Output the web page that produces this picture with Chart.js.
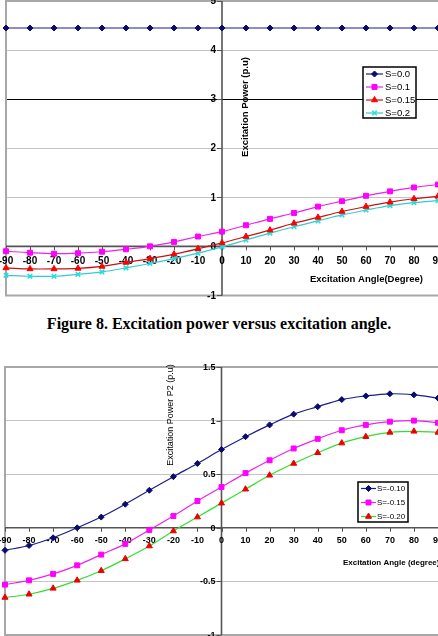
<!DOCTYPE html>
<html>
<head>
<meta charset="utf-8">
<script src="https://cdn.jsdelivr.net/npm/chart.js@4.4.1/dist/chart.umd.min.js"></script>
<style>
  html, body { margin: 0; padding: 0; background: #fff; }
  body { width: 438px; height: 636px; position: relative; overflow: hidden; }
  #c1 { position: absolute; left: 0; top: -5px; }
  #c2 { position: absolute; left: 0; top: 360px; }
  #caption {
    position: absolute; left: 0; top: 315px; width: 438px; text-align: center;
    font-family: "Liberation Serif", "Times New Roman", serif; font-weight: bold; font-size: 16px;
    color: #000;
  }
</style>
</head>
<body>
<canvas id="c1" width="446" height="306"></canvas>
<div id="caption">Figure 8. Excitation power versus excitation angle.</div>
<canvas id="c2" width="446" height="281"></canvas>
<script>
// shared x values (degrees)
const angles = [-90, -80, -70, -60, -50, -40, -30, -20, -10, 0, 10, 20, 30, 40, 50, 60, 70, 80, 90];
const xTickLabels = [-90, -80, -70, -60, -50, -40, -30, -20, -10, 0, 10, 20, 30, 40, 50, 60, 70, 80, 90];

// chart 1 series
const s00 = [4.45, 4.45, 4.45, 4.45, 4.45, 4.45, 4.45, 4.45, 4.45, 4.45, 4.45, 4.45, 4.45, 4.45, 4.45, 4.45, 4.45, 4.45, 4.45];
const s01 = [-0.1, -0.13, -0.15, -0.14, -0.11, -0.06, 0.0, 0.09, 0.2, 0.3, 0.43, 0.56, 0.68, 0.81, 0.92, 1.03, 1.12, 1.2, 1.26];
const s015 = [-0.44, -0.46, -0.46, -0.45, -0.41, -0.33, -0.25, -0.16, -0.05, 0.07, 0.2, 0.33, 0.47, 0.59, 0.71, 0.81, 0.9, 0.97, 1.02];
const s02 = [-0.59, -0.61, -0.61, -0.57, -0.52, -0.44, -0.35, -0.25, -0.14, -0.01, 0.13, 0.27, 0.4, 0.52, 0.64, 0.74, 0.83, 0.89, 0.93];
const yTicks1 = [-1, 0, 1, 2, 3, 4, 5];

// chart 2 series
const sm010 = [-0.21, -0.165, -0.093, 0.0, 0.1, 0.22, 0.35, 0.477, 0.6, 0.73, 0.85, 0.96, 1.06, 1.13, 1.196, 1.23, 1.25, 1.24, 1.21];
const sm015 = [-0.53, -0.49, -0.43, -0.35, -0.25, -0.15, -0.02, 0.11, 0.25, 0.38, 0.51, 0.63, 0.74, 0.83, 0.91, 0.96, 0.99, 1.0, 0.98];
const sm020 = [-0.65, -0.62, -0.565, -0.49, -0.4, -0.29, -0.17, -0.03, 0.1, 0.23, 0.36, 0.49, 0.6, 0.7, 0.79, 0.85, 0.89, 0.9, 0.89];
const yTicks2 = [-1, -0.5, 0, 0.5, 1, 1.5];

function pts(ys) {
    return angles.map((a, i) => ({ x: a, y: ys[i] }));
}

function series(label, ys, line, fill, style, r) {
    return {
        label: label,
        data: pts(ys),
        borderColor: line,
        backgroundColor: fill,
        pointBorderColor: fill,
        pointBackgroundColor: fill,
        borderWidth: 1.2,
        pointStyle: style,
        pointRadius: r,
        pointBorderWidth: style === 'crossRot' ? 1.6 : 1,
        tension: 0.35,
        clip: false
    };
}

// draws axes through zero, tick labels, titles, frame and the legend box
function makeDecor(o) {
    return {
        id: 'decor',
        beforeDatasetsDraw(chart) {
            const ctx = chart.ctx;
            const a = chart.chartArea;
            const xs = chart.scales.x, ys = chart.scales.y;
            const x0 = xs.getPixelForValue(0), y0 = ys.getPixelForValue(0);
            ctx.save();
            // frame
            ctx.strokeStyle = '#a8a8a8';
            ctx.lineWidth = 2;
            ctx.beginPath();
            ctx.moveTo(a.right + 2, a.top);
            ctx.lineTo(a.left, a.top);
            ctx.lineTo(a.left, a.bottom);
            ctx.lineTo(a.right + 2, a.bottom);
            ctx.stroke();
            // zero axes
            ctx.strokeStyle = '#555';
            ctx.lineWidth = 1.6;
            ctx.beginPath();
            ctx.moveTo(a.left, y0); ctx.lineTo(a.right, y0);
            ctx.moveTo(x0, a.top); ctx.lineTo(x0, a.bottom);
            ctx.stroke();
            // tick marks
            ctx.lineWidth = 1;
            ctx.beginPath();
            xTickLabels.forEach(v => {
                const px = Math.round(xs.getPixelForValue(v)) + 0.5;
                ctx.moveTo(px, y0); ctx.lineTo(px, y0 + 4);
            });
            o.yTicks.forEach(v => {
                const py = Math.round(ys.getPixelForValue(v)) + 0.5;
                ctx.moveTo(x0 - 5, py); ctx.lineTo(x0, py);
            });
            ctx.stroke();
            // tick labels
            ctx.fillStyle = '#000';
            ctx.font = 'bold ' + o.tickSize + 'px "Liberation Sans", Arial, sans-serif';
            ctx.textAlign = 'center';
            ctx.textBaseline = 'middle';
            xTickLabels.forEach(v => {
                ctx.fillText(String(v), xs.getPixelForValue(v), y0 + o.xLabelGap);
            });
            ctx.textAlign = 'right';
            o.yTicks.forEach(v => {
                ctx.fillText(String(v), x0 - 6, ys.getPixelForValue(v) + 0.5);
            });
            // axis titles
            ctx.font = o.xTitleFont;
            ctx.textAlign = 'left';
            ctx.fillText(o.xTitle, o.xTitlePos[0], o.xTitlePos[1]);
            ctx.save();
            ctx.translate(o.yTitlePos[0], o.yTitlePos[1]);
            ctx.rotate(-Math.PI / 2);
            ctx.font = o.yTitleFont;
            ctx.textAlign = 'center';
            ctx.fillText(o.yTitle, 0, 0);
            ctx.restore();
            ctx.restore();
        },
        afterDraw(chart) {
            const ctx = chart.ctx;
            const L = o.legend;
            ctx.save();
            ctx.fillStyle = '#fff';
            ctx.fillRect(L.x, L.y, L.w, L.h);
            ctx.strokeStyle = '#000';
            ctx.lineWidth = 1.5;
            ctx.strokeRect(L.x, L.y, L.w, L.h);
            chart.data.datasets.forEach((ds, i) => {
                const cy = L.y + L.first + i * L.step;
                ctx.strokeStyle = ds.borderColor;
                ctx.lineWidth = 1.2;
                ctx.beginPath();
                ctx.moveTo(L.x + 3, cy); ctx.lineTo(L.x + 3 + L.lineLen, cy);
                ctx.stroke();
                ctx.fillStyle = ds.pointBackgroundColor;
                ctx.strokeStyle = ds.pointBorderColor;
                ctx.lineWidth = ds.pointBorderWidth;
                Chart.helpers.drawPoint(ctx, { pointStyle: ds.pointStyle, radius: ds.pointRadius, rotation: 0, borderWidth: ds.pointBorderWidth }, L.x + 3 + L.lineLen / 2, cy);
                ctx.fillStyle = '#000';
                ctx.font = L.font;
                ctx.textAlign = 'left';
                ctx.textBaseline = 'middle';
                ctx.fillText(ds.label, L.x + L.textGap + L.lineLen, cy + 0.5);
            });
            ctx.restore();
        }
    };
}

function baseOptions(ymin, ymax, step, pad, gridColor) {
    return {
        responsive: false,
        animation: false,
        devicePixelRatio: 1,
        layout: { padding: pad },
        plugins: { legend: { display: false }, tooltip: { enabled: false } },
        scales: {
            x: {
                type: 'linear', min: -90, max: 90,
                ticks: { display: false, stepSize: 10 },
                grid: { display: false, drawTicks: false },
                border: { display: false }
            },
            y: {
                type: 'linear', min: ymin, max: ymax,
                ticks: { display: false, stepSize: step },
                grid: { color: gridColor, lineWidth: 1, drawTicks: false },
                border: { display: false }
            }
        }
    };
}

// canvas 1 sits 5px above the page top, so its plot area spans page y 1..296
const opts1 = baseOptions(-1, 5, 1, { left: 6, right: 8, top: 6, bottom: 5 },
    c => (c.tick && c.tick.value === 3) ? '#000' : '#c4c4c4');
new Chart(document.getElementById('c1'), {
    type: 'line',
    data: {
        datasets: [
            series('S=0.0', s00, '#1c1c8c', '#0a0a70', 'rectRot', 3),
            series('S=0.1', s01, '#ee22ee', '#ff00ff', 'rect', 3.5),
            series('S=0.15', s015, '#cc1111', '#ff0000', 'triangle', 3.5),
            series('S=0.2', s02, '#33cccc', '#22dddd', 'crossRot', 3.2)
        ]
    },
    options: opts1,
    plugins: [makeDecor({
        yTicks: yTicks1, tickSize: 10, xLabelGap: 15,
        xTitle: 'Excitation Angle(Degree)', xTitlePos: [310, 284],
        xTitleFont: 'bold 9.5px "Liberation Sans", Arial, sans-serif',
        yTitle: 'Excitation Power (p.u)', yTitlePos: [245, 112],
        yTitleFont: 'bold 9.5px "Liberation Sans", Arial, sans-serif',
        legend: { x: 363, y: 72, w: 53, h: 51, first: 7, step: 13, lineLen: 17, textGap: 5, font: '9.5px "Liberation Sans", Arial, sans-serif' }
    })]
});

const opts2 = baseOptions(-1, 1.5, 0.5, { left: 5, right: 8, top: 7, bottom: 6 }, '#c4c4c4');
new Chart(document.getElementById('c2'), {
    type: 'line',
    data: {
        datasets: [
            series('S=-0.10', sm010, '#1c1c8c', '#0a0a70', 'rectRot', 3),
            series('S=-0.15', sm015, '#ee22ee', '#ff00ff', 'rect', 3.5),
            series('S=-0.20', sm020, '#33dd33', '#ee0000', 'triangle', 3.5)
        ]
    },
    options: opts2,
    plugins: [makeDecor({
        yTicks: yTicks2, tickSize: 9, xLabelGap: 13,
        xTitle: 'Excitation Angle (degree)', xTitlePos: [343, 203],
        xTitleFont: 'bold 8px "Liberation Sans", Arial, sans-serif',
        yTitle: 'Excitation Power P2 (p.u)', yTitlePos: [171, 55],
        yTitleFont: '9px "Liberation Sans", Arial, sans-serif',
        legend: { x: 358, y: 122, w: 50, h: 40, first: 6.5, step: 14, lineLen: 15, textGap: 4, font: '8px "Liberation Sans", Arial, sans-serif' }
    })]
});
</script>
</body>
</html>
